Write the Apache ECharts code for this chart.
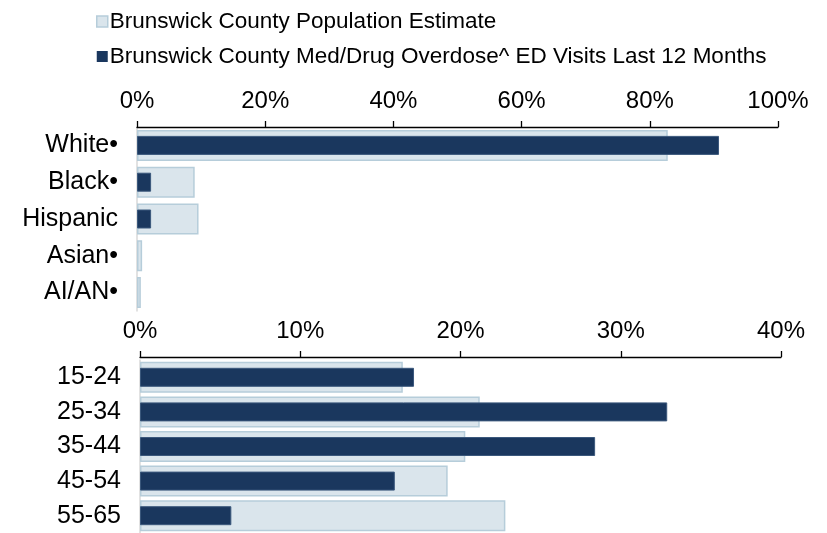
<!DOCTYPE html>
<html>
<head>
<meta charset="utf-8">
<script src="https://cdn.jsdelivr.net/npm/echarts@6/dist/echarts.min.js"></script>
<style>
  html, body { margin: 0; padding: 0; background: #fff; }
  #chart { width: 827px; height: 533px; }
</style>
</head>
<body>
<div id="chart"></div>
<script>
const popName = 'Brunswick County Population Estimate'
const edName = 'Brunswick County Med/Drug Overdose^ ED Visits Last 12 Months'

const raceCats = ['White•', 'Black•', 'Hispanic', 'Asian•', 'AI/AN•']
const racePop = [82.8, 9.0, 9.6, 0.8, 0.6]
const raceEd = [90.8, 2.2, 2.2, 0, 0]

const ageCats = ['15-24', '25-34', '35-44', '45-54', '55-65']
const agePop = [16.4, 21.2, 20.3, 19.2, 22.8]
const ageEd = [17.1, 32.9, 28.4, 15.9, 5.7]

const font = 'Liberation Sans, Arial, sans-serif'
const popFill = '#dae5ec'
const popEdge = '#b6cdda'
const edFill = '#1a375e'
const edEdge = '#3b587c'

const chart = echarts.init(document.getElementById('chart'), null, { renderer: 'canvas' })

function xAx(gridIndex, max, interval, offset) {
  return {
    type: 'value',
    gridIndex,
    position: 'top',
    offset,
    min: 0,
    max,
    interval,
    axisLine: { show: true, lineStyle: { color: '#000', width: 1.3 } },
    axisTick: { show: true, length: 6, lineStyle: { color: '#000', width: 1.3 } },
    axisLabel: { formatter: '{value}%', color: '#000', fontSize: 24, fontFamily: font, margin: 14 },
    splitLine: { show: false }
  }
}

// the visible category axis carries the labels, the hidden twin only centres the dark bars
function yAx(gridIndex, cats, shown) {
  return {
    type: 'category',
    gridIndex,
    data: cats,
    inverse: true,
    show: shown,
    axisLine: { show: true, lineStyle: { color: '#d9d9d9', width: 1.5 } },
    axisTick: { show: false },
    axisLabel: { color: '#000', fontSize: 25, fontFamily: font, margin: 19 }
  }
}

function bars(name, data, xi, yi, width, fill, edge, edgeW) {
  return {
    name,
    type: 'bar',
    xAxisIndex: xi,
    yAxisIndex: yi,
    data: data.map(v => (v === 0 ? null : v)),
    barWidth: width,
    silent: true,
    itemStyle: { color: fill, borderColor: edge, borderWidth: edgeW }
  }
}

chart.setOption({
  animation: false,
  backgroundColor: '#fff',
  textStyle: { fontFamily: font },
  legend: {
    orient: 'vertical',
    left: 91,
    top: 5,
    icon: 'rect',
    itemWidth: 11,
    itemHeight: 11,
    itemGap: 12,
    textStyle: { color: '#000', fontSize: 22.5, fontFamily: font, padding: [0, 0, 0, -3] },
    data: [
      { name: popName, itemStyle: { color: popFill, borderColor: popEdge, borderWidth: 1.5 } },
      { name: edName, itemStyle: { color: edFill, borderColor: edFill, borderWidth: 0 } }
    ]
  },
  grid: [
    { left: 137, right: 49, top: 127, height: 184 },
    { left: 140, right: 46, top: 360, height: 178 }
  ],
  xAxis: [xAx(0, 100, 20, 0), xAx(1, 40, 10, 3)],
  yAxis: [yAx(0, raceCats, true), yAx(0, raceCats, false), yAx(1, ageCats, true), yAx(1, ageCats, false)],
  series: [
    bars(popName, racePop, 0, 0, 31, popFill, popEdge, 1.5),
    bars(edName, raceEd, 0, 1, 19, edFill, edEdge, 1),
    bars(popName, agePop, 1, 2, 31, popFill, popEdge, 1.5),
    bars(edName, ageEd, 1, 3, 19, edFill, edEdge, 1)
  ]
})
</script>
</body>
</html>
